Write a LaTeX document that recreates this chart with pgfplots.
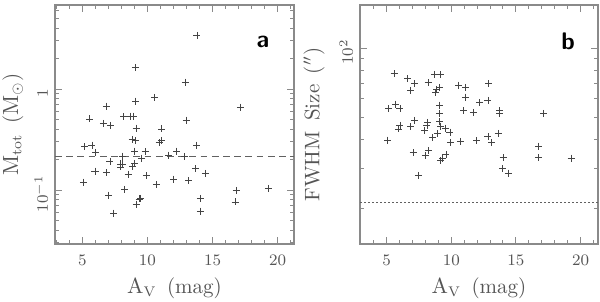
\documentclass[border=0pt]{standalone}
\usepackage{pgfplots}
\pgfplotsset{compat=1.18}
\definecolor{axgray}{HTML}{8A8A8A}
\definecolor{txtgray}{HTML}{555555}
\definecolor{ptgray}{HTML}{444444}
\pgfplotsset{
  panel/.style={
    scale only axis, width=119.5pt, height=119.5pt,
    axis line style={axgray, line width=0.6pt},
    every tick/.style={axgray, line width=0.5pt},
    tick align=inside, tick pos=both,
    major tick length=3.4pt, minor tick length=1.8pt,
    xtick={5,10,15,20}, minor xtick={3,4,6,7,8,9,11,12,13,14,16,17,18,19,21},
    tick label style={font=\fontsize{8}{9}\selectfont, text=txtgray},
    xticklabel style={yshift=-2pt},
    yticklabel style={rotate=90, anchor=south, xshift=-2pt},
    label style={font=\fontsize{10.5}{12}\selectfont, text=txtgray},
    xlabel style={at={(axis description cs:0.5,-0.184)}, anchor=center},
  },
  pts/.style={only marks, mark=+, mark size=1.75pt, ptgray, mark options={line width=0.45pt}},
}
\begin{document}
\begin{tikzpicture}
\useasboundingbox (0,0) rectangle (300pt,150.5pt);
\begin{semilogyaxis}[panel, at={(27.5pt,28.5pt)}, anchor=south west,
  xmin=2.9, xmax=21.25, ymin=0.0292, ymax=6.79,
  ytick={0.1,1}, yticklabels={$10^{-1}$,1},
  minor ytick={0.03,0.04,0.05,0.06,0.07,0.08,0.09,0.2,0.3,0.4,0.5,0.6,0.7,0.8,0.9,2,3,4,5,6},
  xlabel={$\mathrm{A_V}$\ \,(mag)},
  ylabel={$\mathrm{M_{tot}}$\ \,($\mathrm{M}_\odot$)},
  ylabel style={at={(axis description cs:-0.176,0.5)}, anchor=center},
]
\addplot[pts] coordinates {
(9.08,1.63) (10.54,0.827) (9.11,0.760) (6.84,0.679) (5.56,0.505)
(6.61,0.457) (7.17,0.437) (8.19,0.532) (8.70,0.540) (8.93,0.540)
(9.13,0.411) (11.10,0.402) (8.83,0.318) (9.11,0.308) (10.89,0.294)
(11.07,0.310) (5.18,0.269) (5.74,0.279) (6.02,0.236) (9.03,0.243)
(9.82,0.240) (8.09,0.216) (9.54,0.207) (7.12,0.192) (7.96,0.181)
(8.06,0.181) (9.03,0.184) (7.96,0.169) (8.88,0.170) (5.97,0.154)
(6.02,0.152) (6.84,0.148) (8.52,0.143) (9.92,0.139) (5.08,0.120)
(8.27,0.1016) (7.04,0.0892) (9.36,0.0815) (9.49,0.0827) (9.13,0.0727)
(7.42,0.0592) (10.69,0.113) (11.63,0.222)
(13.80,3.40) (12.91,1.17) (17.14,0.663) (12.96,0.493) (13.78,0.279)
(12.24,0.243) (12.86,0.214) (13.67,0.163) (14.44,0.146) (12.01,0.128)
(13.16,0.124) (16.81,0.0992) (19.29,0.104) (14.06,0.0827) (16.73,0.0761)
(14.06,0.0619)
};
\addplot[axgray!70!black, line width=0.5pt, dash pattern=on 3.4pt off 2.2pt] coordinates {(2.9,0.217) (21.25,0.217)};
\node[font=\fontsize{12}{14}\selectfont\sffamily\bfseries, text=black] at (rel axis cs:0.87,0.845) {a};
\end{semilogyaxis}
\begin{semilogyaxis}[panel, at={(180pt,28.5pt)}, anchor=south west, width=119pt,
  xmin=2.94, xmax=21.35, ymin=14.0, ymax=154,
  ytick={100}, yticklabels={$10^{2}$},
  minor ytick={20,30,40,50,60,70,80,90},
  xlabel={$\mathrm{A_V}$\ \,(mag)},
  ylabel={FWHM\ \,Size\ \,($''$)},
  ylabel style={at={(axis description cs:-0.193,0.5)}, anchor=center},
]
\addplot[pts] coordinates {
(5.57,77.3) (6.62,73.5) (7.16,69.9) (6.86,65.4) (8.69,76.8) (9.18,76.6)
(8.20,70.7) (9.10,67.4) (8.89,66.1) (8.79,64.1) (10.57,69.0) (11.13,67.4)
(11.13,61.1) (12.19,57.7) (5.72,57.0) (5.15,54.4) (6.03,54.4) (9.10,56.4)
(9.10,51.9) (10.98,53.4) (11.70,52.4) (7.14,48.4) (8.17,47.4) (6.03,46.0)
(5.90,44.4) (6.86,45.4) (8.12,45.8) (7.96,43.7) (9.12,47.7) (9.18,45.7)
(9.54,44.8) (9.90,43.0) (8.92,42.3) (8.56,40.7) (5.10,39.7) (9.95,38.8)
(10.72,39.2) (11.98,39.4) (7.04,35.0) (8.25,35.7) (7.99,34.0) (9.59,34.4)
(9.33,33.1) (9.18,32.3) (7.45,27.9)
(12.91,69.9) (12.84,59.2) (13.74,53.3) (13.76,52.1) (17.14,51.9) (12.84,41.0)
(13.14,38.6) (13.63,42.5) (16.75,37.4) (14.02,33.3) (16.73,33.3) (19.28,33.1)
(13.99,29.8) (14.41,28.5)
};
\addplot[axgray!70!black, line width=0.5pt, dash pattern=on 0.8pt off 1.2pt] coordinates {(2.94,21.2) (21.35,21.2)};
\node[font=\fontsize{12}{14}\selectfont\sffamily\bfseries, text=black] at (rel axis cs:0.874,0.85) {b};
\end{semilogyaxis}
\end{tikzpicture}
\end{document}
